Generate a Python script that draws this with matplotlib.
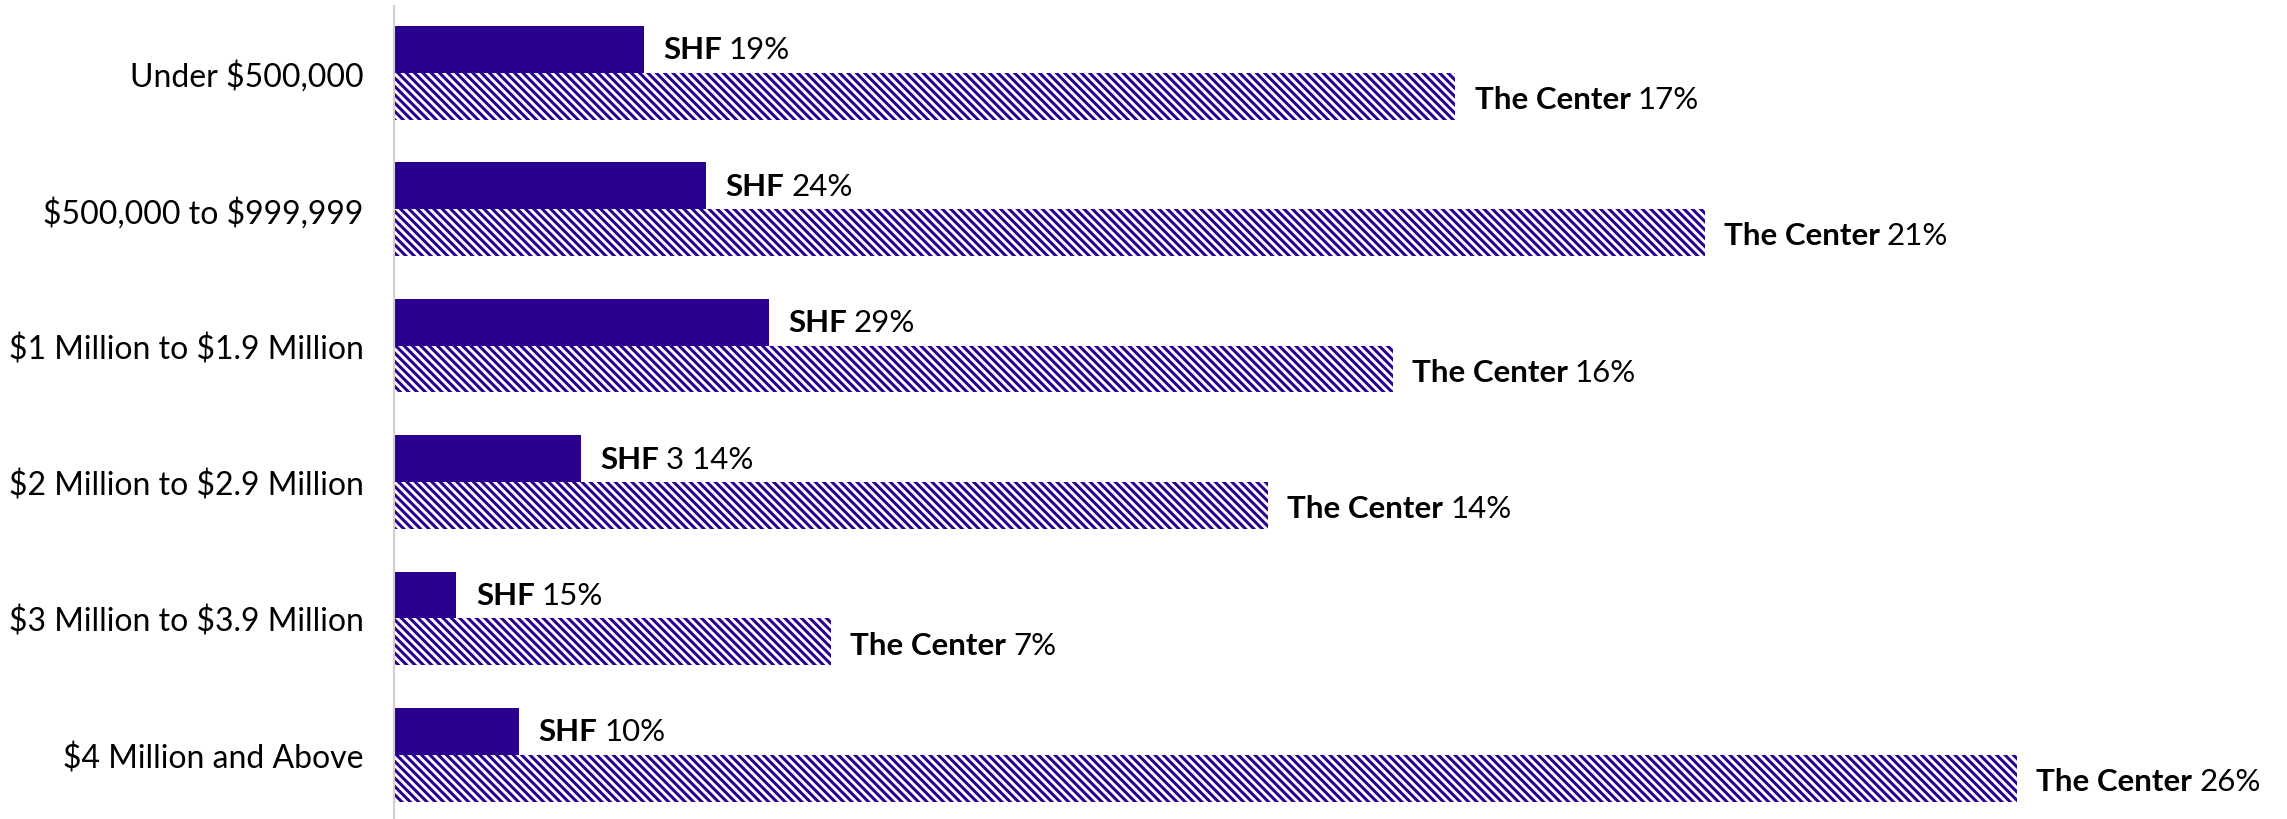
import matplotlib.pyplot as plt
import numpy as np

plt.rcParams['font.family'] = ['Lato', 'DejaVu Sans']
plt.rcParams['hatch.linewidth'] = 2.2

categories = [r'Under \$500,000', r'\$500,000 to \$999,999', r'\$1 Million to \$1.9 Million',
              r'\$2 Million to \$2.9 Million', r'\$3 Million to \$3.9 Million', r'\$4 Million and Above']
shf_vals = [4, 5, 6, 3, 1, 2]
center_vals = [17, 21, 16, 14, 7, 26]
shf_labels = ['19%', '24%', '29%', '3 14%', '15%', '10%']
center_labels = ['17%', '21%', '16%', '14%', '7%', '26%']

purple = '#2a008f'

fig = plt.figure(figsize=(22.87, 8.2), dpi=100)
ax = fig.add_axes([0.1723, 0.0, 0.8187, 0.9915])

y = np.arange(len(categories))
h = 0.343

ax.barh(y - h / 2, shf_vals, height=h, color=purple, linewidth=0)
ax.barh(y + h / 2, center_vals, height=h, color='white', edgecolor=purple,
        hatch='\\\\\\\\', linewidth=0)

ax.set_xlim(0, 30)
ax.set_ylim(5.47, -0.49)
ax.set_yticks(y)
ax.set_yticklabels(categories, fontsize=23)
ax.tick_params(axis='y', length=0, pad=22)
ax.set_xticks([])
for s in ['top', 'right', 'bottom']:
    ax.spines[s].set_visible(False)
ax.spines['left'].set_color('#d0d0d0')
ax.spines['left'].set_linewidth(1.5)


def add_label(xv, yv, name, val, dy=0):
    t = ax.annotate(name, xy=(xv, yv), xytext=(14, dy), textcoords='offset points',
                    ha='left', va='center', fontsize=22.5, fontweight='bold')
    ax.annotate(val, xy=(1, 0.5), xycoords=t, xytext=(5, 0), textcoords='offset points',
                ha='left', va='center', fontsize=22.5)


for i in range(len(categories)):
    add_label(shf_vals[i], y[i] - h / 2, 'SHF', shf_labels[i])
    add_label(center_vals[i], y[i] + h / 2, 'The Center', center_labels[i], dy=-2)

fig.savefig('out.png', dpi=100)
